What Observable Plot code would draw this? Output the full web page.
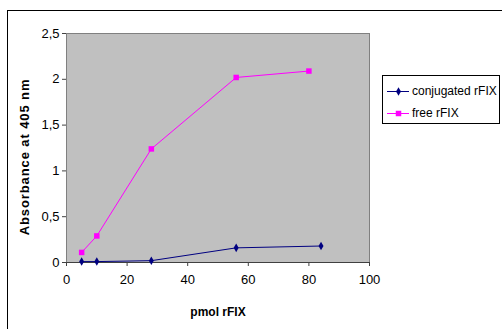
<!DOCTYPE html>
<html><head><meta charset="utf-8">
<script src="https://cdn.jsdelivr.net/npm/d3@7"></script>
<script src="https://cdn.jsdelivr.net/npm/@observablehq/plot@0.6"></script>
<style>
body{margin:0;background:#fff;font-family:"Liberation Sans",Arial,sans-serif;}
#wrap{position:relative;width:502px;height:329px;overflow:hidden;}
#border{position:absolute;left:7px;top:10px;width:600px;height:400px;border:1px solid #000;}
#legend{position:absolute;left:382px;top:75px;width:116px;height:47px;border:1px solid #000;background:#fff;font-size:12px;}
.item{position:absolute;left:4px;height:16px;display:flex;align-items:center;}
.item svg{margin-right:3px;}
svg.plot{position:absolute;left:0;top:0;}
</style></head>
<body><div id="wrap"><div id="border"></div></div>
<script>
const seriesNames = ["conjugated rFIX", "free rFIX"];
const conjX = [5, 10, 28, 56, 84];
const conjY = [0.01, 0.01, 0.02, 0.16, 0.18];
const freeX = [5, 10, 28, 56, 80];
const freeY = [0.11, 0.29, 1.24, 2.02, 2.09];
const xTicks = [0, 20, 40, 60, 80, 100];
const yTicks = [0, 0.5, 1, 1.5, 2, 2.5];
const colors = ["#000080", "#ff00ff"];
const symbols = ["diamond", "square"];
const radii = [2.6, 3.1];

const conj = conjX.map((x, i) => ({x, y: conjY[i]}));
const free = freeX.map((x, i) => ({x, y: freeY[i]}));

const chart = Plot.plot({
  width: 502, height: 329,
  marginLeft: 66, marginTop: 33, marginRight: 133, marginBottom: 67,
  style: {fontFamily: '"Liberation Sans", Arial, sans-serif', fontSize: "13px", background: "transparent", color: "#000"},
  x: {domain: [0, 100], ticks: xTicks},
  y: {domain: [0, 2.5], ticks: yTicks},
  marks: [
    Plot.frame({fill: "#c0c0c0", stroke: "#808080"}),
    Plot.axisX({ticks: xTicks, tickSize: 4, tickPadding: 8, stroke: "#404040", label: null}),
    Plot.axisY({ticks: yTicks, tickSize: 4, tickPadding: 3, stroke: "#404040", label: null,
      tickFormat: d => String(d).replace(".", ",")}),
    Plot.ruleY([0], {stroke: "#404040"}),
    Plot.line(conj, {x: "x", y: "y", stroke: colors[0], strokeWidth: 1}),
    Plot.dot(conj, {x: "x", y: "y", symbol: symbols[0], fill: colors[0], r: radii[0]}),
    Plot.line(free, {x: "x", y: "y", stroke: colors[1], strokeWidth: 1}),
    Plot.dot(free, {x: "x", y: "y", symbol: symbols[1], fill: colors[1], r: radii[1]})
  ]
});
const wrap = document.getElementById("wrap");
wrap.appendChild(chart);

const ns = "http://www.w3.org/2000/svg";
const yl = document.createElementNS(ns, "text");
yl.setAttribute("transform", "translate(29,157) rotate(-90)");
yl.setAttribute("text-anchor", "middle");
yl.setAttribute("font-weight", "bold");
yl.setAttribute("font-size", "13px");
yl.setAttribute("letter-spacing", "0.9px");
yl.textContent = "Absorbance at 405 nm";
chart.appendChild(yl);
const xl = document.createElementNS(ns, "text");
xl.setAttribute("x", 218);
xl.setAttribute("y", 316);
xl.setAttribute("text-anchor", "middle");
xl.setAttribute("font-weight", "bold");
xl.setAttribute("font-size", "12px");
xl.textContent = "pmol rFIX";
chart.appendChild(xl);

const leg = document.createElement("div");
leg.id = "legend";
seriesNames.forEach((name, i) => {
  const it = document.createElement("div");
  it.className = "item";
  it.style.top = (i === 0 ? 7 : 29) + "px";
  const sw = Plot.plot({
    width: 22, height: 12, margin: 0, axis: null,
    x: {domain: [0, 2]}, y: {domain: [0, 1]},
    style: {background: "transparent"},
    marks: [
      Plot.ruleY([0.5], {stroke: colors[i]}),
      Plot.dot([[1, 0.5]], {x: d => d[0], y: d => d[1], symbol: symbols[i], fill: colors[i], r: radii[i]})
    ]
  });
  it.appendChild(sw);
  const t = document.createElement("span");
  t.textContent = name;
  it.appendChild(t);
  leg.appendChild(it);
});
wrap.appendChild(leg);
</script></body></html>
